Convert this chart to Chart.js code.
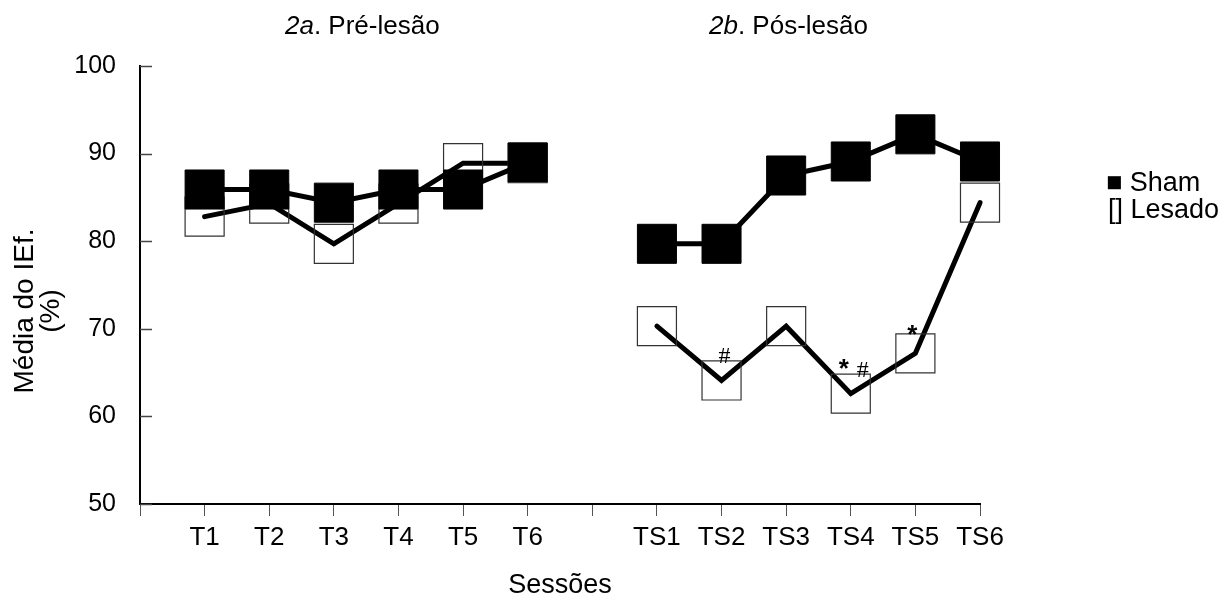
<!DOCTYPE html>
<html><head><meta charset="utf-8">
<script src="https://cdn.jsdelivr.net/npm/chart.js@4/dist/chart.umd.min.js"></script>
<style>html,body{margin:0;padding:0;background:#fff;}canvas{display:block;}</style>
</head><body>
<canvas id="c" width="1231" height="602"></canvas>
<script>
// ---- data ----
const preSessions = ['T1','T2','T3','T4','T5','T6'];
const postSessions = ['TS1','TS2','TS3','TS4','TS5','TS6'];
const shamPre = [85.9, 85.9, 84.4, 85.9, 85.9, 89.0];
const lesadoPre = [82.8, 84.3, 79.7, 84.3, 88.9, 88.9];
const shamPost = [79.7, 79.7, 87.5, 89.1, 92.2, 89.1];
const lesadoPost = [70.3, 64.1, 70.3, 62.6, 67.2, 84.4];
const yTicks = [50, 60, 70, 80, 90, 100];
const panelTitles = [['2a', '. Pré-lesão'], ['2b', '. Pós-lesão']];
const legendTexts = ['■ Sham', '[] Lesado'];
const markSessions = ['TS2', 'TS4', 'TS4', 'TS5'];
const markSymbols = ['#', '*', '#', '*'];
const yTitleLines = ['Média do IEf.', '(%)'];
const xTitle = 'Sessões';

const labels = [''].concat(preSessions, [''], postSessions);
const shamData = [null].concat(shamPre, [null], shamPost);
const lesadoData = [null].concat(lesadoPre, [null], lesadoPost);

// ---- layout / style ----
const FONT = "'Liberation Sans', Arial, Helvetica, sans-serif";
const markOffsets = [{dx: 3, dy: -17}, {dx: -7, dy: -17}, {dx: 12, dy: -17}, {dx: -3, dy: -10}];
Chart.defaults.color = '#000';
Chart.defaults.font.family = FONT;

const decor = {
  id: 'decor',
  afterDraw(chart) {
    const {ctx, chartArea, scales: {x, y}} = chart;
    ctx.save();
    // inward y tick marks
    ctx.strokeStyle = '#444';
    ctx.lineWidth = 1.5;
    y.ticks.forEach(t => {
      const py = Math.round(y.getPixelForValue(t.value)) + 0.5;
      ctx.beginPath();
      ctx.moveTo(chartArea.left, py);
      ctx.lineTo(chartArea.left + 12, py);
      ctx.stroke();
    });
    ctx.fillStyle = '#000';
    // y title (two lines, rotated)
    ctx.font = '28px ' + FONT;
    ctx.textAlign = 'center';
    ctx.textBaseline = 'alphabetic';
    [33, 59].forEach((bx, i) => {
      ctx.save();
      ctx.translate(bx, 311);
      ctx.rotate(-Math.PI / 2);
      ctx.fillText(yTitleLines[i], 0, 0);
      ctx.restore();
    });
    // panel titles
    ctx.textAlign = 'left';
    [285, 709].forEach((sx, i) => {
      ctx.font = 'italic 26px ' + FONT;
      ctx.fillText(panelTitles[i][0], sx, 34);
      const w = ctx.measureText(panelTitles[i][0]).width;
      ctx.font = '26px ' + FONT;
      ctx.fillText(panelTitles[i][1], sx + w, 34);
    });
    // legend
    ctx.font = '27px ' + FONT;
    ctx.fillText(legendTexts[0], 1106, 191);
    ctx.fillText(legendTexts[1], 1108, 218);
    // significance marks
    ctx.textAlign = 'center';
    markSessions.forEach((s, i) => {
      const idx = labels.indexOf(s);
      const px = x.getPixelForValue(idx);
      const py = y.getPixelForValue(lesadoData[idx]);
      ctx.font = markSymbols[i] === '#' ? "24px 'Liberation Serif', serif" : 'bold 26px ' + FONT;
      ctx.fillText(markSymbols[i], px + markOffsets[i].dx, py + markOffsets[i].dy);
    });
    ctx.restore();
  }
};

new Chart(document.getElementById('c'), {
  type: 'line',
  data: {
    labels: labels,
    datasets: [
      {
        label: 'Sham', data: shamData,
        borderColor: '#000', borderWidth: 5, tension: 0, fill: false, spanGaps: false,
        borderCapStyle: 'round', clip: false,
        pointStyle: 'rect', pointRadius: 27.6, pointHoverRadius: 27.6,
        pointBackgroundColor: '#000', pointBorderColor: '#000', pointBorderWidth: 1
      },
      {
        label: 'Lesado', data: lesadoData,
        borderColor: '#000', borderWidth: 5, tension: 0, fill: false, spanGaps: false,
        borderCapStyle: 'round', clip: false,
        pointStyle: 'rect', pointRadius: 27.6, pointHoverRadius: 27.6,
        pointBackgroundColor: 'rgba(0,0,0,0)', pointBorderColor: '#333', pointBorderWidth: 1.2
      }
    ]
  },
  options: {
    responsive: false,
    animation: false,
    devicePixelRatio: 1,
    layout: {padding: {top: 66, right: 251, left: 0, bottom: 0}},
    plugins: {legend: {display: false}, tooltip: {enabled: false}, title: {display: false}},
    scales: {
      x: {
        type: 'category',
        offset: false,
        grid: {display: true, drawOnChartArea: false, drawTicks: true, tickLength: 12, color: '#555', lineWidth: 1},
        border: {display: true, color: '#000', width: 2},
        ticks: {autoSkip: false, maxRotation: 0, minRotation: 0, padding: 6, color: '#000', font: {size: 26, family: FONT}},
        title: {display: true, text: xTitle, color: '#000', font: {size: 27, family: FONT, lineHeight: 1.2}, padding: {top: 0, bottom: 0}},
        afterFit(s) { s.height = 98; }
      },
      y: {
        min: 50, max: 100,
        grid: {display: false, drawTicks: false},
        border: {display: true, color: '#000', width: 2},
        ticks: {padding: 24, color: '#000', font: {size: 25, family: FONT}},
        afterBuildTicks(s) { s.ticks = yTicks.map(v => ({value: v})); },
        afterFit(s) { s.width = 140; }
      }
    }
  },
  plugins: [decor]
});
</script>
</body></html>
